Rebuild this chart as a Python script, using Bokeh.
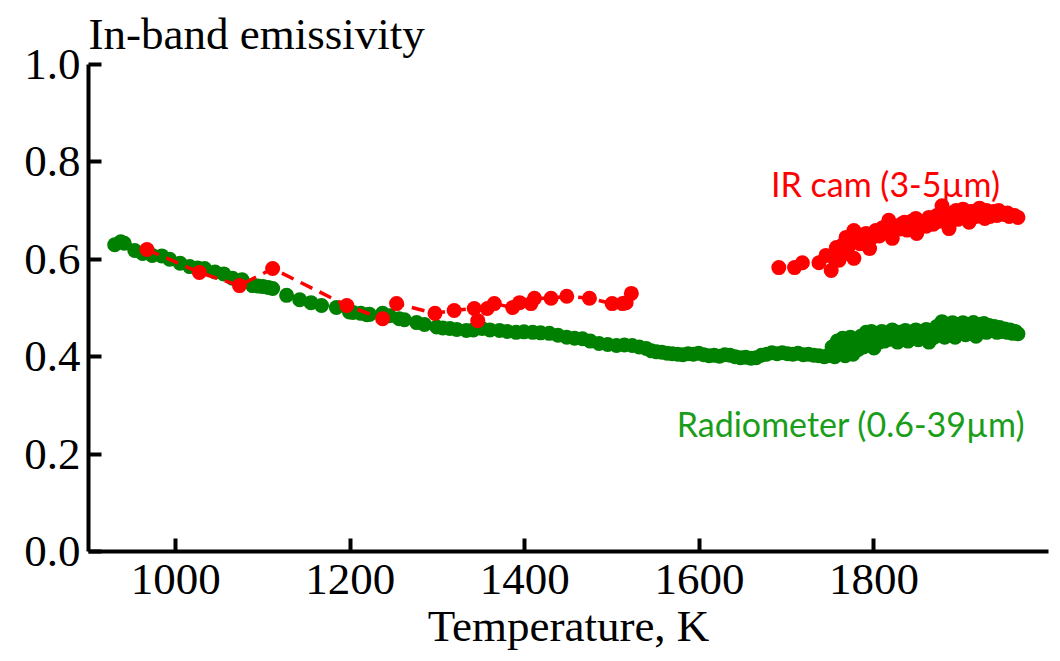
from bokeh.plotting import figure
from bokeh.models import Label, FixedTicker, Range1d, PrintfTickFormatter
from bokeh.embed import file_html
from bokeh.resources import INLINE

# Radiometer (0.6-39 um) -- green
radio_T = [930, 937, 941, 953, 962, 973, 984, 993, 1005, 1016, 1025, 1033, 1045, 1055, 1065,
           1076, 1088, 1094, 1100, 1106, 1111, 1127, 1142, 1155, 1167, 1184, 1199, 1203, 1212,
           1219, 1222, 1237, 1245, 1256, 1262, 1276, 1285, 1299, 1306, 1314, 1322, 1333, 1341,
           1351, 1360, 1371, 1380, 1390, 1399, 1409, 1418, 1428, 1438, 1448, 1457, 1466, 1475,
           1485, 1495, 1505, 1514, 1523, 1531, 1539,
           1545, 1551, 1557, 1563, 1569, 1575, 1581, 1587, 1593, 1599, 1605, 1611, 1617, 1623,
           1629, 1635, 1641, 1647, 1653, 1659, 1665, 1671, 1677, 1683, 1689, 1695, 1701, 1707,
           1713, 1719, 1725, 1731, 1737, 1743, 1747,
           1750, 1752, 1755, 1758, 1761, 1764, 1767, 1770, 1773, 1776, 1779, 1782, 1785, 1788,
           1791, 1794, 1797, 1800, 1803, 1806, 1809, 1812, 1815, 1818, 1821, 1824, 1827, 1830,
           1833, 1836, 1839, 1842, 1845, 1848, 1851, 1854, 1857, 1860, 1863, 1866, 1869, 1872,
           1875, 1878, 1881, 1884, 1887, 1890, 1893, 1896, 1899, 1902, 1905, 1908, 1911, 1914,
           1917, 1920, 1923, 1926, 1929, 1932, 1935, 1938, 1941, 1944, 1947, 1950, 1953, 1956,
           1959, 1962, 1965]
radio_e = [0.630, 0.636, 0.633, 0.618, 0.612, 0.608, 0.607, 0.600, 0.592, 0.585, 0.582, 0.581,
           0.574, 0.570, 0.561, 0.558, 0.546, 0.545, 0.544, 0.542, 0.540, 0.526, 0.517, 0.511,
           0.505, 0.501, 0.492, 0.491, 0.489, 0.486, 0.487, 0.489, 0.484, 0.478, 0.476, 0.470,
           0.466, 0.461, 0.459, 0.458, 0.456, 0.454, 0.455, 0.458, 0.455, 0.454, 0.452, 0.450,
           0.451, 0.450, 0.449, 0.448, 0.444, 0.440, 0.438, 0.437, 0.432, 0.427, 0.425, 0.423,
           0.424, 0.423, 0.420, 0.417,
           0.412, 0.410, 0.409, 0.407, 0.406, 0.405, 0.404, 0.406, 0.405, 0.407, 0.404, 0.402,
           0.403, 0.401, 0.404, 0.403, 0.400, 0.398, 0.399, 0.397, 0.398, 0.403, 0.405, 0.408,
           0.406, 0.408, 0.406, 0.405, 0.407, 0.404, 0.405, 0.403, 0.402, 0.400, 0.402,
           0.405, 0.420, 0.400, 0.432, 0.410, 0.438, 0.402, 0.425, 0.440, 0.405, 0.430, 0.415,
           0.442, 0.420, 0.450, 0.425, 0.452, 0.418, 0.440, 0.430, 0.452, 0.432, 0.448, 0.436,
           0.455, 0.440, 0.430, 0.450, 0.438, 0.454, 0.432, 0.448, 0.440, 0.455, 0.435, 0.450,
           0.442, 0.456, 0.430, 0.448, 0.440, 0.462, 0.445, 0.472, 0.440, 0.465, 0.450, 0.470,
           0.440, 0.466, 0.452, 0.470, 0.445, 0.466, 0.455, 0.470, 0.442, 0.466, 0.452, 0.468,
           0.450, 0.464, 0.455, 0.462, 0.450, 0.460, 0.452, 0.457, 0.450, 0.455, 0.448, 0.452,
           0.447]

# IR camera (3-5 um), low-temperature run -- red, dashed
ir_low_T = [967, 1027, 1073, 1111, 1196, 1237, 1253, 1297, 1319, 1342, 1346, 1357, 1365, 1386,
            1394, 1407, 1411, 1430, 1448, 1474, 1500, 1512, 1516, 1522]
ir_low_e = [0.620, 0.573, 0.546, 0.581, 0.505, 0.478, 0.509, 0.489, 0.495, 0.499, 0.474, 0.499,
            0.509, 0.501, 0.511, 0.509, 0.520, 0.520, 0.524, 0.520, 0.509, 0.509, 0.511, 0.530]

# IR camera (3-5 um), high-temperature run -- red
ir_high_T = [1691, 1709, 1718, 1737, 1745, 1751, 1757, 1760, 1765, 1768, 1772, 1777, 1777, 1782,
             1786, 1791, 1795, 1802, 1806, 1810, 1817, 1821, 1826, 1832, 1838, 1843, 1848, 1849,
             1855, 1860, 1863, 1868, 1872, 1878, 1882, 1886, 1890, 1894, 1898, 1902, 1906, 1909,
             1913, 1917, 1921, 1925, 1929, 1933, 1937, 1941, 1945, 1949, 1953, 1957, 1961, 1965,
             1755, 1763, 1770, 1784, 1798, 1813, 1829, 1835, 1852, 1866, 1875, 1884, 1896, 1911,
             1927, 1943, 1955]
ir_high_e = [0.583, 0.583, 0.593, 0.593, 0.608, 0.577, 0.624, 0.598, 0.615, 0.645, 0.630, 0.659,
             0.602, 0.640, 0.650, 0.653, 0.622, 0.659, 0.648, 0.665, 0.680, 0.643, 0.668, 0.673,
             0.660, 0.678, 0.684, 0.653, 0.675, 0.668, 0.686, 0.672, 0.690, 0.710, 0.680, 0.663,
             0.695, 0.700, 0.685, 0.703, 0.690, 0.676, 0.698, 0.688, 0.705, 0.692, 0.700, 0.688,
             0.698, 0.690, 0.696, 0.692, 0.695, 0.690, 0.690, 0.686,
             0.600, 0.628, 0.612, 0.632, 0.645, 0.655, 0.662, 0.676, 0.665, 0.680, 0.678, 0.692,
             0.682, 0.698, 0.684, 0.700, 0.688]

x_ticks = [1000, 1200, 1400, 1600, 1800]
y_ticks = [0.0, 0.2, 0.4, 0.6, 0.8, 1.0]

SERIF = "Liberation Serif"
FS = "45px"

p = figure(width=1060, height=661, output_backend="svg", toolbar_location=None,
           x_range=Range1d(900, 2000), y_range=Range1d(0, 1.0),
           min_border_left=88, min_border_right=12, min_border_top=64, min_border_bottom=110)
p.outline_line_color = None
p.grid.visible = False

p.title.text = "In-band emissivity"
p.title.text_font = SERIF
p.title.text_font_size = FS
p.title.text_font_style = "normal"
p.title.text_color = "black"
p.title.align = "left"
p.title.standoff = 12

for ax in (p.xaxis[0], p.yaxis[0]):
    ax.axis_line_width = 4
    ax.major_tick_line_width = 4
    ax.major_tick_in = 13
    ax.major_tick_out = 0
    ax.minor_tick_line_color = None
    ax.major_label_text_font = SERIF
    ax.major_label_text_font_size = FS
    ax.major_label_text_color = "black"

p.xaxis.ticker = FixedTicker(ticks=x_ticks)
p.yaxis.ticker = FixedTicker(ticks=y_ticks)
p.yaxis.formatter = PrintfTickFormatter(format="%.1f")
p.xaxis.major_label_standoff = 13
p.yaxis.major_label_standoff = 8
p.xaxis.axis_label = "Temperature, K"
p.xaxis.axis_label_text_font = SERIF
p.xaxis.axis_label_text_font_size = FS
p.xaxis.axis_label_text_font_style = "normal"
p.xaxis.axis_label_text_color = "black"
p.xaxis.axis_label_standoff = 4

DOT = 15
p.scatter(radio_T, radio_e, size=DOT, color="green", line_color=None)
p.line(ir_low_T, ir_low_e, line_color="red", line_width=3.5, line_dash="13 8")
p.scatter(ir_low_T, ir_low_e, size=DOT, color="red", line_color=None)
p.scatter(ir_high_T, ir_high_e, size=DOT, color="red", line_color=None)

p.add_layout(Label(x=1682, y=0.756, text="IR cam (3-5µm)", text_color="red",
                   text_font="Lato", text_font_size="34px", text_baseline="alphabetic"))
p.add_layout(Label(x=1574, y=0.263, text="Radiometer (0.6-39µm)", text_color="#1a9e1a",
                   text_font="Lato", text_font_size="34px", text_baseline="alphabetic"))

open("out.html", "w").write(file_html(p, INLINE))
